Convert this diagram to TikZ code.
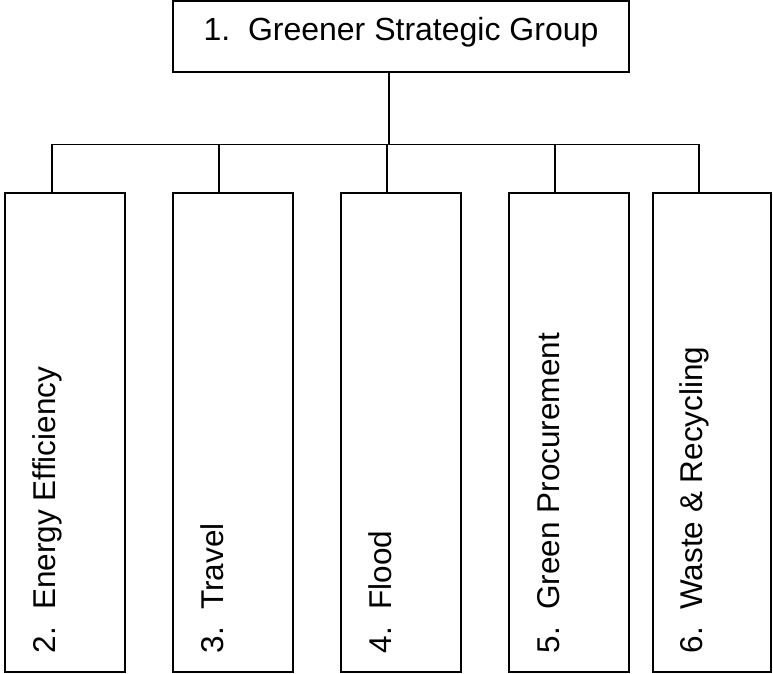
\documentclass[tikz,border=0pt]{standalone}
\usepackage{fontspec}
\setmainfont{Liberation Sans}
\begin{document}
\begin{tikzpicture}[x=1pt,y=1pt,
  topbox/.style={draw, line width=2pt, minimum width=456pt, minimum height=71pt,
    inner sep=0pt, text height=23pt, text depth=14pt,
    font=\fontsize{32}{38}\selectfont},
  subbox/.style={draw, line width=2pt, rotate=90, minimum width=479.5pt,
    minimum height=#1, inner xsep=19pt, inner ysep=0pt,
    text width=441.5pt, align=flush left, text height=22pt, text depth=42pt,
    font=\fontsize{31.5}{37}\selectfont},
  subbox/.default=120pt,
  conn/.style={line width=1.6pt}]
\useasboundingbox (0,0) rectangle (773,674);
\node[topbox] (top) at (401,637.5) {1.\ \ Greener Strategic Group};
\node[subbox] (b1) at (65,241.25) {2.\ \ Energy Efficiency};
\node[subbox] (b2) at (233,241.25) {3.\ \ Travel};
\node[subbox] (b3) at (401,241.25) {4.\ \ Flood};
\node[subbox] (b4) at (569,241.25) {5.\ \ Green Procurement};
\node[subbox=118pt] (b5) at (712,241.25) {6.\ \ Waste \& Recycling};
\coordinate (j) at (389,529.5);
\coordinate (d1) at (52,529.5);
\coordinate (d2) at (219,529.5);
\coordinate (d3) at (387,529.5);
\coordinate (d4) at (555,529.5);
\coordinate (d5) at (699,529.5);
\draw[conn] (top.south -| j) -- (j);
\draw[conn] (d1) -- (d5);
\draw[conn] (d1) -- (d1 |- b1.east);
\draw[conn] (d2) -- (d2 |- b2.east);
\draw[conn] (d3) -- (d3 |- b3.east);
\draw[conn] (d4) -- (d4 |- b4.east);
\draw[conn] (d5) -- (d5 |- b5.east);
\end{tikzpicture}
\end{document}
